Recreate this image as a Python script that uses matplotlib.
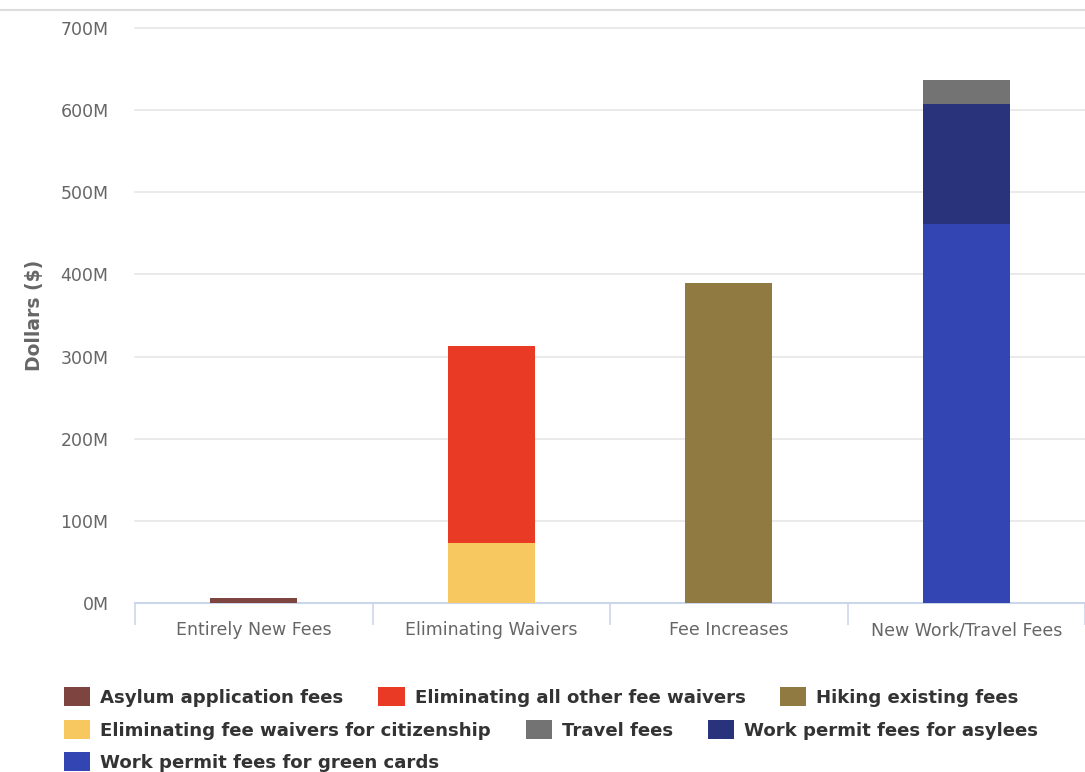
import numpy as np
import matplotlib.pyplot as plt
from matplotlib.patches import Patch
from matplotlib.lines import Line2D

categories = ['Entirely New Fees', 'Eliminating Waivers', 'Fee Increases', 'New Work/Travel Fees']

# values in millions of dollars, one list per series (stacked)
asylum = [6, 0, 0, 0]
citizenship = [0, 73, 0, 0]
all_other = [0, 240, 0, 0]
hiking = [0, 0, 390, 0]
green_cards = [0, 0, 0, 462]
asylees = [0, 0, 0, 146]
travel = [0, 0, 0, 29]

# drawing order (bottom to top of each stack)
series = [
    ('Asylum application fees', asylum, '#7e4440'),
    ('Eliminating fee waivers for citizenship', citizenship, '#f6c85f'),
    ('Eliminating all other fee waivers', all_other, '#e83a25'),
    ('Hiking existing fees', hiking, '#907a41'),
    ('Work permit fees for green cards', green_cards, '#3345b3'),
    ('Work permit fees for asylees', asylees, '#29337c'),
    ('Travel fees', travel, '#737373'),
]
colors = {name: c for name, _, c in series}

legend_rows = [
    ['Asylum application fees', 'Eliminating all other fee waivers', 'Hiking existing fees'],
    ['Eliminating fee waivers for citizenship', 'Travel fees', 'Work permit fees for asylees'],
    ['Work permit fees for green cards'],
]

fig = plt.figure(figsize=(10.85, 7.72), dpi=100)
ax = fig.add_axes([135 / 1085, 1 - 603 / 772, 950 / 1085, 575 / 772])

x = np.arange(len(categories))
bottom = np.zeros(len(categories))
for name, vals, c in series:
    vals = np.array(vals, dtype=float)
    ax.bar(x, vals, bottom=bottom, width=0.365, color=c, linewidth=0, zorder=3)
    bottom += vals

ax.set_xlim(-0.5, 3.5)
ax.set_ylim(0, 700)
ax.set_yticks(range(0, 701, 100))
ax.set_yticklabels([f'{v}M' for v in range(0, 701, 100)])
ax.grid(axis='y', color='#e6e6e6', linewidth=1.2, zorder=0)
for gl in ax.get_ygridlines():
    gl.set_clip_on(False)
ax.set_xticks(x)
ax.set_xticklabels(categories)
ax.set_xticks(np.arange(-0.5, 4.0, 1.0), minor=True)
ax.tick_params(axis='x', which='major', length=0, pad=13, labelsize=12.5, labelcolor='#666666')
ax.tick_params(axis='x', which='minor', length=16, color='#ccd6eb', width=1.2)
ax.tick_params(axis='y', length=0, pad=19, labelsize=12.5, labelcolor='#666666')
for s in ['top', 'right', 'left']:
    ax.spines[s].set_visible(False)
ax.spines['bottom'].set_color('#ccd6eb')
ax.spines['bottom'].set_linewidth(1.5)
ax.set_ylabel('Dollars ($)', fontsize=13.5, fontweight='bold', color='#666666')
ax.yaxis.set_label_coords(-0.096, 0.5)

fig.add_artist(Line2D([0, 1], [1 - 10 / 772, 1 - 10 / 772], color='#dddddd', linewidth=1.5))

row_y = [697, 730, 762]
for row, yy in zip(legend_rows, row_y):
    handles = [Patch(facecolor=colors[n], edgecolor='none') for n in row]
    leg = fig.legend(handles, row, loc='center left', bbox_to_anchor=(64 / 1085, 1 - yy / 772),
                     ncol=len(row), frameon=False, handlelength=1.45, handleheight=1.25,
                     handletextpad=0.55, columnspacing=1.9, borderaxespad=0, borderpad=0,
                     prop={'weight': 'bold', 'size': 13.1})
    for t in leg.get_texts():
        t.set_color('#333333')

fig.savefig('out.png', dpi=100)
